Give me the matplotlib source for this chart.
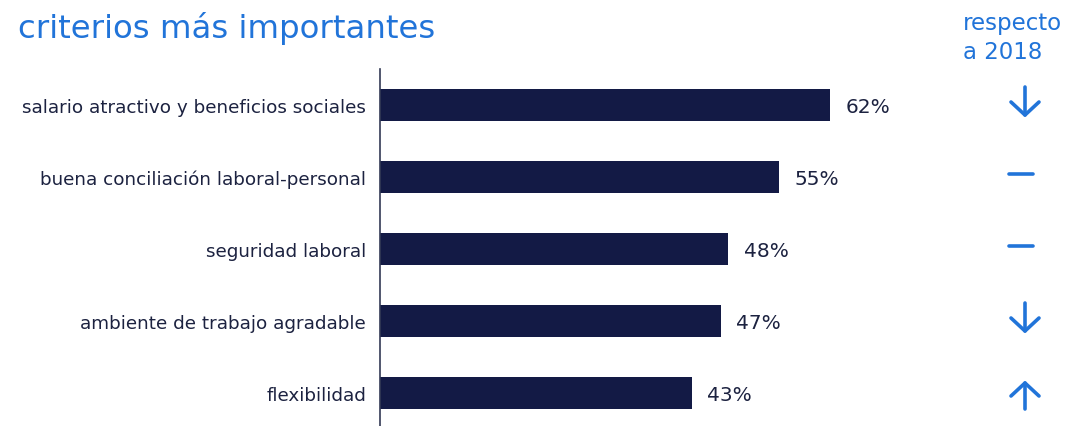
import matplotlib.pyplot as plt
import numpy as np

CATEGORIES = [
    "salario atractivo y beneficios sociales",
    "buena conciliación laboral-personal",
    "seguridad laboral",
    "ambiente de trabajo agradable",
    "flexibilidad",
]
VALUES = [62, 55, 48, 47, 43]
TRENDS = ["down", "flat", "flat", "down", "up"]  # respecto a 2018

BAR_COLOR = "#131a45"
BLUE = "#2174d9"
TEXT = "#1c2240"

W, H = 1066, 427
plt.rcParams.update({"font.family": "DejaVu Sans"})

fig = plt.figure(figsize=(W / 100, H / 100), dpi=100)

# main axes: left edge at 380 px, top 70 px, down to bottom
px_per_pct = (830 - 380) / 62
ax_left, ax_right = 380, 930
ax = fig.add_axes([ax_left / W, 0, (ax_right - ax_left) / W, (H - 70) / H])
ylo = (H - 106) / 72
ax.set_ylim(ylo, -0.5)
ax.set_xlim(0, (ax_right - ax_left) / px_per_pct)

y = np.arange(len(CATEGORIES))
ax.barh(y, VALUES, height=0.44, color=BAR_COLOR)
for yi, v in zip(y, VALUES):
    ax.text(v + 2.1, yi + 0.02, f"{v}%", ha="left", va="center",
            fontsize=14.5, color=TEXT)

ax.set_yticks(y)
ax.set_yticklabels(CATEGORIES, fontsize=13.2, color=TEXT)
ax.tick_params(axis="y", length=0, pad=10)
ax.set_xticks([])
for s in ["top", "right", "bottom"]:
    ax.spines[s].set_visible(False)
ax.spines["left"].set_color("#333a55")
ax.spines["left"].set_linewidth(1.2)

# trend column
ax2 = fig.add_axes([1000 / W, 0, 50 / W, (H - 70) / H])
ax2.set_ylim(ylo, -0.5)
ax2.set_xlim(0, 50)
ax2.axis("off")
s = 1 / 72  # one pixel in row units
kw = dict(color=BLUE, lw=2.6, solid_capstyle="round", solid_joinstyle="round")
for yi, t in zip(y, TRENDS):
    if t == "flat":
        yc = yi - 3 * s
        ax2.plot([9, 33], [yc, yc], **kw)
    elif t == "down":
        yc = yi - 4 * s
        top, bot = yc - 14 * s, yc + 14 * s
        ax2.plot([25, 25], [top, bot], **kw)
        ax2.plot([11, 25, 39], [bot - 13 * s, bot, bot - 13 * s], **kw)
    else:
        yc = yi + 3 * s
        top, bot = yc - 13 * s, yc + 13 * s
        ax2.plot([25, 25], [top, bot], **kw)
        ax2.plot([11, 25, 39], [top + 13 * s, top, top + 13 * s], **kw)

fig.text(18 / W, 1 - 38 / H, "criterios más importantes", fontsize=23.3,
         color=BLUE, ha="left", va="baseline")
fig.text(963 / W, 1 - 38 / H, "respecto\na 2018", fontsize=16.5,
         color=BLUE, ha="left", va="center", linespacing=1.35)

fig.savefig("out.png", dpi=100)
